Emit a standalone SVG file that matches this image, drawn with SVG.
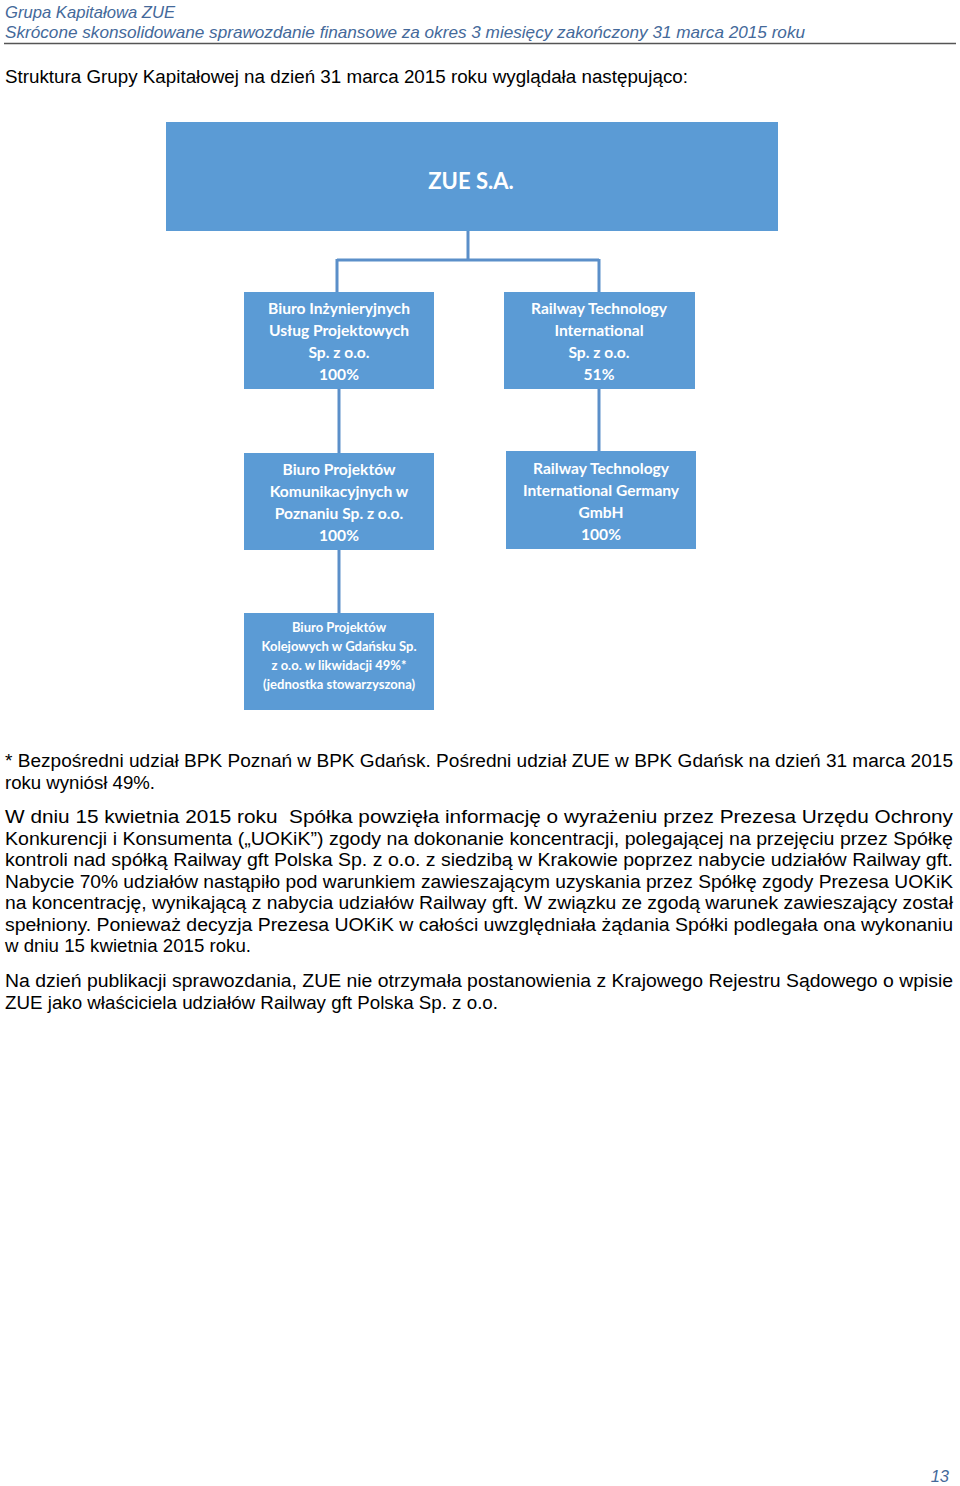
<svg xmlns="http://www.w3.org/2000/svg" width="960" height="1486" viewBox="0 0 960 1486">
<style>
.hdr{font-family:"Liberation Sans",Arial,sans-serif;font-style:italic;font-size:16.5px;fill:#44699a}
.body{font-family:"Liberation Sans",Arial,sans-serif;font-size:18px;fill:#000}
.box{fill:#5b9bd5}
.nt{font-family:Lato,"Open Sans",sans-serif;font-weight:bold;fill:#fff;text-anchor:middle}
.n14{font-size:15.6px}
.n11{font-size:13px}
.conn{fill:none;stroke:#5b8fc9;stroke-width:3}
</style>
<rect width="960" height="1486" fill="#fff"/>
<text class="hdr" x="5" y="18" textLength="170" lengthAdjust="spacingAndGlyphs">Grupa Kapitałowa ZUE</text>
<text class="hdr" x="5" y="38" textLength="800" lengthAdjust="spacingAndGlyphs">Skrócone skonsolidowane sprawozdanie finansowe za okres 3 miesięcy zakończony 31 marca 2015 roku</text>
<line x1="4" y1="43.5" x2="956" y2="43.5" stroke="#555" stroke-width="1.5"/>
<text class="body" x="5" y="83" textLength="683" lengthAdjust="spacingAndGlyphs">Struktura Grupy Kapitałowej na dzień 31 marca 2015 roku wyglądała następująco:</text>

<g id="connectors">
<path class="conn" d="M468,231 V260 M337,260 H599 M337,259 V292 M599,259 V292"/>
<path class="conn" d="M339,389 V453"/>
<path class="conn" d="M599,389 V451"/>
<path class="conn" d="M339,550 V613"/>
</g>

<g id="zue">
<rect class="box" x="166" y="122" width="612" height="109"/>
<text class="nt" x="471" y="189" font-size="22">ZUE S.A.</text>
</g>
<g id="biup">
<rect class="box" x="244" y="292" width="190" height="97"/>
<text class="nt n14" x="339" y="314">Biuro Inżynieryjnych</text>
<text class="nt n14" x="339" y="336">Usług Projektowych</text>
<text class="nt n14" x="339" y="358">Sp. z o.o.</text>
<text class="nt n14" x="339" y="380">100%</text>
</g>
<g id="rti">
<rect class="box" x="504" y="292" width="191" height="97"/>
<text class="nt n14" x="599" y="314">Railway Technology</text>
<text class="nt n14" x="599" y="336">International</text>
<text class="nt n14" x="599" y="358">Sp. z o.o.</text>
<text class="nt n14" x="599" y="380">51%</text>
</g>
<g id="bpk-poznan">
<rect class="box" x="244" y="453" width="190" height="97"/>
<text class="nt n14" x="339" y="475">Biuro Projektów</text>
<text class="nt n14" x="339" y="497">Komunikacyjnych w</text>
<text class="nt n14" x="339" y="519">Poznaniu Sp. z o.o.</text>
<text class="nt n14" x="339" y="541">100%</text>
</g>
<g id="rti-germany">
<rect class="box" x="506" y="451" width="190" height="98"/>
<text class="nt n14" x="601" y="474">Railway Technology</text>
<text class="nt n14" x="601" y="496">International Germany</text>
<text class="nt n14" x="601" y="518">GmbH</text>
<text class="nt n14" x="601" y="540">100%</text>
</g>
<g id="bpk-gdansk">
<rect class="box" x="244" y="613" width="190" height="97"/>
<text class="nt n11" x="339" y="632">Biuro Projektów</text>
<text class="nt n11" x="339" y="651">Kolejowych w Gdańsku Sp.</text>
<text class="nt n11" x="339" y="670">z o.o. w likwidacji 49%*</text>
<text class="nt n11" x="339" y="689">(jednostka stowarzyszona)</text>
</g>

<text class="body" x="5" y="767" textLength="948" lengthAdjust="spacingAndGlyphs">* Bezpośredni udział BPK Poznań w BPK Gdańsk. Pośredni udział ZUE w BPK Gdańsk na dzień 31 marca 2015</text>
<text class="body" x="5" y="789" textLength="150" lengthAdjust="spacingAndGlyphs">roku wyniósł 49%.</text>

<text class="body" x="5" y="823" textLength="948" lengthAdjust="spacingAndGlyphs" xml:space="preserve">W dniu 15 kwietnia 2015 roku  Spółka powzięła informację o wyrażeniu przez Prezesa Urzędu Ochrony</text>
<text class="body" x="5" y="845" textLength="948" lengthAdjust="spacingAndGlyphs">Konkurencji i Konsumenta („UOKiK”) zgody na dokonanie koncentracji, polegającej na przejęciu przez Spółkę</text>
<text class="body" x="5" y="866" textLength="948" lengthAdjust="spacingAndGlyphs">kontroli nad spółką Railway gft Polska Sp. z o.o. z siedzibą w Krakowie poprzez nabycie udziałów Railway gft.</text>
<text class="body" x="5" y="888" textLength="948" lengthAdjust="spacingAndGlyphs">Nabycie 70% udziałów nastąpiło pod warunkiem zawieszającym uzyskania przez Spółkę zgody Prezesa UOKiK</text>
<text class="body" x="5" y="909" textLength="948" lengthAdjust="spacingAndGlyphs">na koncentrację, wynikającą z nabycia udziałów Railway gft. W związku ze zgodą warunek zawieszający został</text>
<text class="body" x="5" y="931" textLength="948" lengthAdjust="spacingAndGlyphs">spełniony. Ponieważ decyzja Prezesa UOKiK w całości uwzględniała żądania Spółki podlegała ona wykonaniu</text>
<text class="body" x="5" y="952" textLength="246" lengthAdjust="spacingAndGlyphs">w dniu 15 kwietnia 2015 roku.</text>

<text class="body" x="5" y="987" textLength="948" lengthAdjust="spacingAndGlyphs">Na dzień publikacji sprawozdania, ZUE nie otrzymała postanowienia z Krajowego Rejestru Sądowego o wpisie</text>
<text class="body" x="5" y="1009" textLength="493" lengthAdjust="spacingAndGlyphs">ZUE jako właściciela udziałów Railway gft Polska Sp. z o.o.</text>

<text class="hdr" x="949" y="1482" text-anchor="end">13</text>
</svg>
